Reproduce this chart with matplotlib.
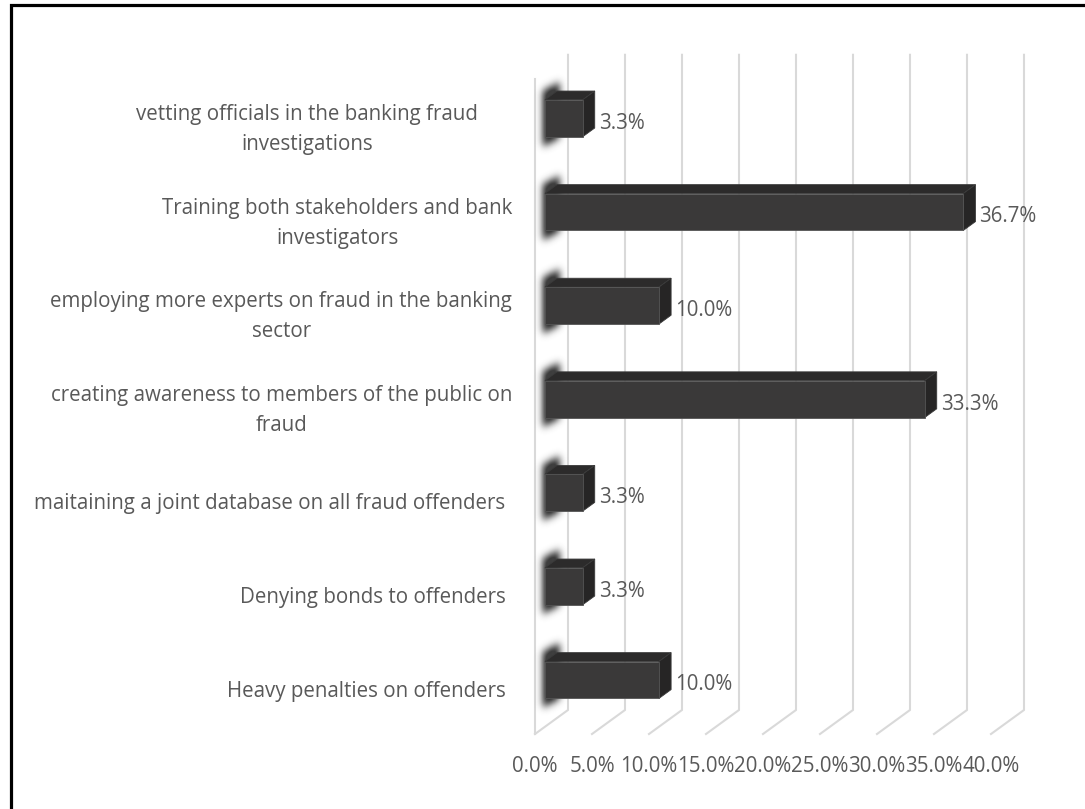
import numpy as np
import matplotlib
matplotlib.use("Agg")
import matplotlib.pyplot as plt
from matplotlib.patches import Polygon, Rectangle
from matplotlib.path import Path

plt.rcParams['font.family'] = ['Open Sans', 'DejaVu Sans']

# survey answers, bottom row first
categories = [
    "Heavy penalties on offenders",
    "Denying bonds to offenders",
    "maitaining a joint database on all fraud offenders",
    "creating awareness to members of the public on\nfraud",
    "employing more experts on fraud in the banking\nsector",
    "Training both stakeholders and bank\ninvestigators",
    "vetting officials in the banking fraud\ninvestigations",
]
values = [10.0, 3.3, 3.3, 33.3, 10.0, 36.7, 3.3]
ticks = [0, 5, 10, 15, 20, 25, 30, 35, 40]

W, H = 1085, 809
PX = 11.4          # pixels per percent
PY = 93.6          # pixels per category row
OX, OY = 535, 75   # front-left floor corner, pixels from lower left
DX = 33 / PX       # depth offset (percent units)
DY = 24 / PY       # depth offset (row units)
TXT = '#595959'
GRID = '#d9d9d9'
FS = 14.8


def proj(v, c, d):
    # oblique projection of (value, row, depth) onto the flat axes
    return v + DX * d, c + DY * d


fig = plt.figure(figsize=(W / 100, H / 100), dpi=100)
ax = fig.add_axes([0, 0, 1, 1])
ax.set_xlim(-OX / PX, (W - OX) / PX)
ax.set_ylim(-OY / PY, (H - OY) / PY)
ax.axis('off')

n = len(categories)

# back wall gridlines and floor lines
for t in ticks:
    x0, y0 = proj(t, 0, 1)
    x1, y1 = proj(t, n, 1)
    xf, yf = proj(t, 0, 0)
    ax.plot([x1, x0, xf], [y1, y0, yf], color=GRID, lw=1.5, zorder=1,
            solid_joinstyle='miter')
xa, ya = proj(0, 0, 0)
xb, yb = proj(0, n, 0)
ax.plot([xa, xb], [ya, yb], color=GRID, lw=1.5, zorder=1)

# soft shading where each bar meets the side wall
h = 0.395
d0, d1 = 0.30, 0.67
gx = np.linspace(-3.0, 4.0, 90)
gy = np.linspace(-OY / PY, (H - OY) / PY, H)
GX, GY = np.meshgrid(gx, gy)
pts = np.column_stack([GX.ravel(), GY.ravel()])
mask = np.zeros(GX.shape)
for i in range(n):
    c0, c1 = i + 0.5 - h / 2 - 0.1, i + 0.5 + h / 2 + 0.1
    poly = [proj(-0.2, c0, d0), proj(-0.2, c1, d0),
            proj(0.2, c1, d1), proj(0.2, c0, d1)]
    mask[Path(poly).contains_points(pts).reshape(GX.shape)] = 1.0
k = np.exp(-0.5 * (np.arange(-12, 13) / 4.0) ** 2)
k /= k.sum()
mask = np.apply_along_axis(lambda r: np.convolve(r, k, mode='same'), 1, mask)
mask = np.apply_along_axis(lambda r: np.convolve(r, k, mode='same'), 0, mask)
rgba = np.zeros(mask.shape + (4,))
rgba[..., :3] = 0.2
rgba[..., 3] = np.clip(mask * 1.15, 0, 0.95)
ax.imshow(rgba, extent=[gx[0], gx[-1], gy[0], gy[-1]], origin='lower',
          aspect='auto', interpolation='bilinear', zorder=2)

# bars: front, top and right faces
for i, v in enumerate(values):
    c0, c1 = i + 0.5 - h / 2, i + 0.5 + h / 2
    front = [proj(0, c0, d0), proj(v, c0, d0), proj(v, c1, d0), proj(0, c1, d0)]
    top = [proj(0, c1, d0), proj(v, c1, d0), proj(v, c1, d1), proj(0, c1, d1)]
    side = [proj(v, c0, d0), proj(v, c0, d1), proj(v, c1, d1), proj(v, c1, d0)]
    ax.add_patch(Polygon(top, closed=True, fc='#2c2b2b', ec='#3a3a3a', lw=0.6, zorder=3))
    ax.add_patch(Polygon(side, closed=True, fc='#262525', ec='#3a3a3a', lw=0.6, zorder=3))
    ax.add_patch(Polygon(front, closed=True, fc='#3a3939', ec='#555555', lw=0.6, zorder=4))
    lx, _ = proj(v, 0, d1)
    _, ly = proj(v, i + 0.5, 0.1)
    ax.text(lx + 4 / PX, ly, f"{v:.1f}%", ha='left', va='center',
            fontsize=FS, color=TXT, zorder=5)

# category labels
right_edge = [-2.6, -2.6, -2.6, -2.0, -2.0, -2.0, -5.0]
for i, lab in enumerate(categories):
    ax.text(right_edge[i], i + 0.5 - 4 / PY, lab, ha='right', va='center',
            multialignment='center', fontsize=FS, color=TXT, linespacing=1.55)

# value axis labels
for t in ticks:
    tx, ty = proj(t, -0.35, 0)
    ax.text(tx, ty, f"{t:.1f}%", ha='center', va='center', fontsize=FS, color=TXT)

# outer frame (runs off the right and bottom edges)
fig.add_artist(Rectangle((10.5 / W, -0.05), 1.2, 1.05 - 5.0 / H, fill=False,
                         ec='black', lw=2.3, transform=fig.transFigure))

fig.savefig('out.png', dpi=100, facecolor='white')
